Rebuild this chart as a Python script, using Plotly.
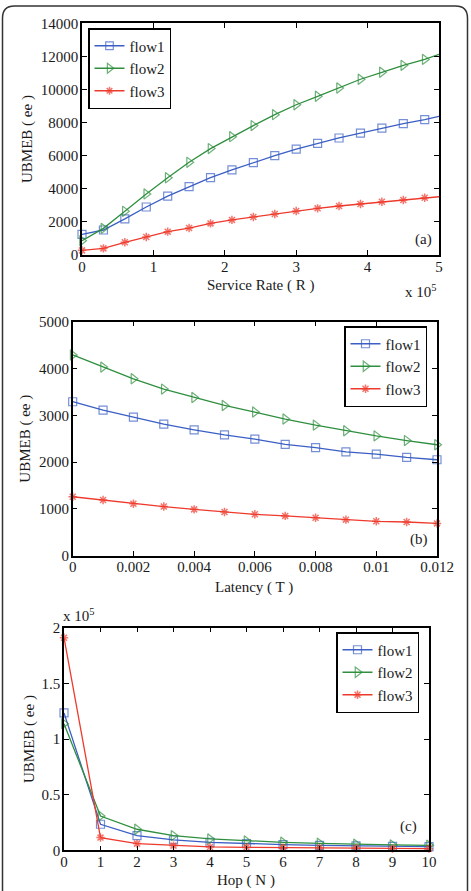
import plotly.graph_objects as go

# ---------------- data ----------------
# (a) UBMEB vs service rate R
rate = [0, 30000, 60000, 90000, 120000, 150000, 180000, 210000, 240000, 270000,
        300000, 330000, 360000, 390000, 420000, 450000, 480000, 500000]
a_flow1 = [1250, 1510, 2180, 2900, 3560, 4130, 4670, 5140, 5580, 6000,
           6400, 6750, 7070, 7370, 7670, 7940, 8180, 8380]
a_flow2 = [860, 1610, 2640, 3690, 4670, 5600, 6430, 7150, 7820, 8480,
           9080, 9590, 10090, 10620, 11040, 11460, 11820, 12120]
a_flow3 = [280, 400, 770, 1090, 1410, 1630, 1910, 2120, 2300, 2480,
           2660, 2820, 2960, 3080, 3220, 3320, 3460, 3520]

# (b) UBMEB vs latency T
latency = [0, 0.001, 0.002, 0.003, 0.004, 0.005, 0.006, 0.007, 0.008, 0.009,
           0.010, 0.011, 0.012]
b_flow1 = [3290, 3110, 2960, 2810, 2690, 2580, 2490, 2380, 2310, 2220, 2170, 2100, 2050]
b_flow2 = [4290, 4030, 3780, 3560, 3380, 3210, 3070, 2920, 2790, 2670, 2560, 2460, 2370]
b_flow3 = [1260, 1190, 1110, 1050, 990, 935, 885, 850, 810, 770, 735, 720, 690]

# (c) UBMEB vs hop N
hop = [0, 1, 2, 3, 4, 5, 6, 7, 8, 9, 10]
c_flow1 = [123400, 23400, 13200, 9300, 7200, 6000, 5100, 4500, 3900, 3600, 3300]
c_flow2 = [113800, 30800, 18900, 13200, 10200, 8400, 7200, 6300, 5400, 4800, 4500]
c_flow3 = [191000, 11400, 6000, 4200, 3000, 2700, 2400, 2100, 1800, 1500, 1500]

names = ["flow1", "flow2", "flow3"]
a_xticks = [0, 100000, 200000, 300000, 400000, 500000]
a_xticktext = ["0", "1", "2", "3", "4", "5"]
a_yticks = [0, 2000, 4000, 6000, 8000, 10000, 12000, 14000]
a_yticktext = ["0", "2000", "4000", "6000", "8000", "10000", "12000", "14000"]
b_xticks = [0, 0.002, 0.004, 0.006, 0.008, 0.01, 0.012]
b_xticktext = ["0", "0.002", "0.004", "0.006", "0.008", "0.01", "0.012"]
b_yticks = [0, 1000, 2000, 3000, 4000, 5000]
b_yticktext = ["0", "1000", "2000", "3000", "4000", "5000"]
c_xticks = hop
c_xticktext = [str(h) for h in hop]
c_yticks = [0, 50000, 100000, 150000, 200000]
c_yticktext = ["0", "0.5", "1", "1.5", "2"]

# ---------------- style ----------------
W, H = 471, 891
FONT = "Liberation Serif"
FS = 15
TXT = "#1a1a1a"
COLORS = ["#3b5fc4", "#2f8f3f", "#ee3a2c"]
SYMBOLS = ["square-open", "triangle-right-open", "asterisk-open"]
MSIZE = [8, 9, 7]


def px_x(p):
    return p / W


def px_y(p):
    return 1 - p / H


fig = go.Figure()

panels = [
    dict(x=rate, ys=[a_flow1, a_flow2, a_flow3], xa="x", ya="y", legend="legend",
         nomarker_last=True),
    dict(x=latency, ys=[b_flow1, b_flow2, b_flow3], xa="x2", ya="y2", legend="legend2",
         nomarker_last=False),
    dict(x=hop, ys=[c_flow1, c_flow2, c_flow3], xa="x3", ya="y3", legend="legend3",
         nomarker_last=False),
]

for p in panels:
    n = len(p["x"])
    for i, (name, ys) in enumerate(zip(names, p["ys"])):
        sizes = [MSIZE[i]] * n
        if p["nomarker_last"]:
            sizes[-1] = 0
        fig.add_trace(go.Scatter(
            x=p["x"], y=ys, name=name, mode="lines+markers",
            xaxis=p["xa"], yaxis=p["ya"], legend=p["legend"],
            line=dict(color=COLORS[i], width=1.3),
            marker=dict(symbol=SYMBOLS[i], size=sizes, color=COLORS[i],
                        line=dict(color=COLORS[i], width=1.5 if i == 2 else 1.2)),
            cliponaxis=False,
        ))


def axis(**kw):
    d = dict(
        showgrid=False, zeroline=False, showline=True, mirror="ticks",
        linecolor="black", linewidth=1.5, ticks="inside", ticklen=5,
        tickcolor="black", tickwidth=1.2,
        tickfont=dict(family=FONT, size=FS, color=TXT),
        automargin=False,
    )
    d.update(kw)
    return d


# pixel boxes of the three plot areas
boxes = [
    (82, 439, 23.3, 255.0),
    (72.7, 437, 321.7, 555.7),
    (64, 429, 627.7, 850.3),
]


def dom_x(b):
    return [px_x(b[0]), px_x(b[1])]


def dom_y(b):
    return [px_y(b[3]), px_y(b[2])]


fig.update_layout(
    xaxis=axis(domain=dom_x(boxes[0]), anchor="y", range=[0, 500000],
               tickvals=a_xticks, ticktext=a_xticktext, ticklabelstandoff=-3),
    yaxis=axis(domain=dom_y(boxes[0]), anchor="x", range=[0, 14000],
               tickvals=a_yticks, ticktext=a_yticktext, ticklabelstandoff=-1),
    xaxis2=axis(domain=dom_x(boxes[1]), anchor="y2", range=[0, 0.012],
                tickvals=b_xticks, ticktext=b_xticktext, ticklabelstandoff=-3),
    yaxis2=axis(domain=dom_y(boxes[1]), anchor="x2", range=[0, 5000],
                tickvals=b_yticks, ticktext=b_yticktext, ticklabelstandoff=-1),
    xaxis3=axis(domain=dom_x(boxes[2]), anchor="y3", range=[0, 10],
                tickvals=c_xticks, ticktext=c_xticktext, ticklabelstandoff=-3),
    yaxis3=axis(domain=dom_y(boxes[2]), anchor="x3", range=[0, 200000],
                tickvals=c_yticks, ticktext=c_yticktext, ticklabelstandoff=-1),
)


def legend(x, y):
    return dict(
        bgcolor="white", bordercolor="black", borderwidth=1.5,
        font=dict(family=FONT, size=FS, color=TXT),
        xanchor="left", yanchor="top", tracegroupgap=0, itemwidth=30,
        x=px_x(x), y=px_y(y),
    )


fig.update_layout(
    legend=legend(88, 28),
    legend2=legend(344, 326),
    legend3=legend(336, 632),
)

annots = []


def txt(x, y, text, angle=0, size=FS):
    annots.append(dict(
        x=px_x(x), y=px_y(y), xref="paper", yref="paper", text=text,
        showarrow=False, textangle=angle, xanchor="center", yanchor="middle",
        font=dict(family=FONT, size=size, color=TXT),
    ))


# axis titles
txt(260, 285, "Service Rate ( R )")
txt(254, 587, "Latency ( T )")
txt(246, 880, "Hop ( N )")
txt(27, 139, "UBMEB ( ee )", angle=-90)
txt(26, 438.7, "UBMEB ( ee )", angle=-90)
txt(29, 739, "UBMEB ( ee )", angle=-90)
# exponent labels
txt(421, 291, "x 10<sup>5</sup>")
txt(79, 615, "x 10<sup>5</sup>")
# panel labels
txt(423, 239, "(a)")
txt(419, 539, "(b)")
txt(408, 826, "(c)")

# rounded outer frame (extends past the bottom edge)
x0, x1 = px_x(2.5), px_x(467.5)
yt, yb = px_y(6), -0.02
rx, ry = 12 / W, 12 / H
frame_path = (f"M {x0},{yb} L {x0},{yt - ry} Q {x0},{yt} {x0 + rx},{yt} "
              f"L {x1 - rx},{yt} Q {x1},{yt} {x1},{yt - ry} L {x1},{yb}")

fig.update_layout(
    width=W, height=H, margin=dict(l=0, r=0, t=0, b=0),
    paper_bgcolor="white", plot_bgcolor="white",
    annotations=annots,
    shapes=[dict(type="path", xref="paper", yref="paper", path=frame_path,
                 line=dict(color="#333333", width=1.5), layer="below")],
    font=dict(family=FONT, size=FS, color=TXT),
)

fig.write_html("out.html")
